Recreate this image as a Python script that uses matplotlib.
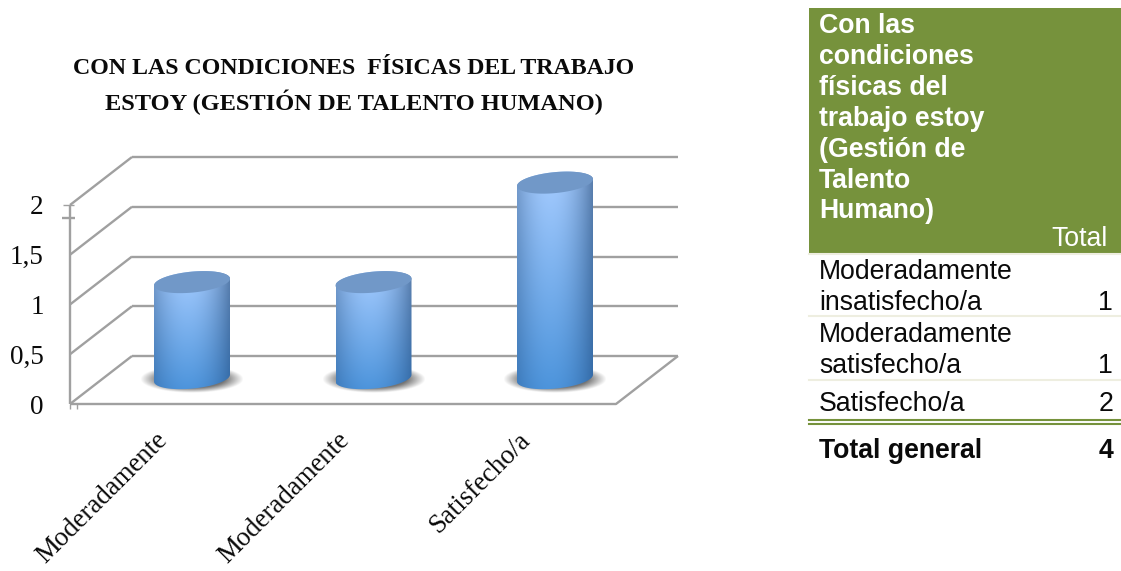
import numpy as np
import matplotlib
matplotlib.use('Agg')
import matplotlib.pyplot as plt
from matplotlib.patches import Polygon, Rectangle
from matplotlib.transforms import ScaledTranslation

title_lines = ['CON LAS CONDICIONES  FÍSICAS DEL TRABAJO', 'ESTOY (GESTIÓN DE TALENTO HUMANO)']
categories = ['Moderadamente', 'Moderadamente', 'Satisfecho/a']
values = [1, 1, 2]
y_ticks = [0, 0.5, 1, 1.5, 2]
y_labels = ['0', '0,5', '1', '1,5', '2']

table_header = ['Con las', 'condiciones', 'físicas del', 'trabajo estoy', '(Gestión de', 'Talento', 'Humano)']
table_rows = [['Moderadamente', 'insatisfecho/a'], ['Moderadamente', 'satisfecho/a'], ['Satisfecho/a']]
table_values = [1, 1, 2]
table_total = 4

W, H = 1121, 571
SERIF = 'Liberation Serif'
SANS = 'Liberation Sans'
GREY = '#a0a0a0'
GREEN = '#76923c'
PALE = '#eeeee0'
INK = '#0a0a0a'
FS = 19.2

fig = plt.figure(figsize=(W / 100, H / 100), dpi=100)

# eje del grafico: y=0 en 404 px, y=2 en 205 px
px_x = 181.5
px_y = 99.5
ax = fig.add_axes([70 / W, (H - 404) / H, 546 / W, 199 / H])
xlim = ((70 - 192) / px_x, (616 - 192) / px_x)
ylim = (0, 2)
for s in ax.spines.values():
    s.set_visible(False)
ax.patch.set_visible(False)

dx = 62 / px_x
dy = 48 / px_y


# paredes y piso en perspectiva
def line(xs, ys, z=1, lw=1.7):
    ax.plot(xs, ys, color=GREY, lw=lw, clip_on=False, zorder=z, solid_capstyle='butt')


back_right = xlim[1] + dx
for t in y_ticks:
    line([xlim[0], xlim[0] + dx], [t, t + dy])
    line([xlim[0] + dx, back_right], [t + dy, t + dy])
line([xlim[0], xlim[1], back_right], [0, 0, dy])
line([xlim[0], xlim[0]], [0, 2])
# marcas sueltas del eje
line([xlim[0] - 8 / px_x, xlim[0] + 5 / px_x], [1.87, 1.87])
line([xlim[0] - 7 / px_x, xlim[0] + 4 / px_x], [2, 2], lw=1)
line([xlim[0], xlim[0]], [0, -5 / px_y], lw=1)
line([xlim[0] + 7 / px_x, xlim[0] + 7 / px_x], [0, -5 / px_y], lw=1)


def ellipse(cx, cy, t):
    a = 38
    b = 10.5
    ex = a * np.cos(t)
    ey = b * np.sin(t) + 0.09 * a * np.cos(t)
    return np.column_stack([cx + ex / px_x, cy + ey / px_y])


def lerp(c1, c2, f):
    return np.asarray(c1)[None, None, :] * (1 - f[..., None]) + np.asarray(c2)[None, None, :] * f[..., None]


floor = 0.26
lift = 0.225
for i, v in enumerate(values):
    top = lift + v
    # sombra
    sx, sy = np.meshgrid(np.linspace(-1, 1, 120), np.linspace(-1, 1, 60))
    r = np.sqrt(sx ** 2 + sy ** 2)
    shadow = np.zeros((60, 120, 4))
    shadow[..., :3] = 0.32
    shadow[..., 3] = np.clip((1 - r) * 2.2, 0, 0.8)
    ax.imshow(shadow, extent=(i - 52 / px_x, i + 52 / px_x, floor - 15 / px_y, floor + 13 / px_y),
              aspect='auto', zorder=2, clip_on=False)

    # cuerpo del cilindro con degradado
    u, w = np.meshgrid(np.linspace(-1, 1, 100), np.linspace(0, 1, 200))
    center = lerp((0.65, 0.80, 1.0), (0.30, 0.58, 0.86), w)
    edge = lerp((0.36, 0.50, 0.68), (0.20, 0.42, 0.66), w)
    mix = np.clip(np.abs(u + 0.12) / 1.12, 0, 1) ** 2.0
    img = center * (1 - mix[..., None]) + edge * mix[..., None]
    im = ax.imshow(img, extent=(i - 38 / px_x, i + 38 / px_x, floor - 12 / px_y, top + 12 / px_y),
                   aspect='auto', zorder=3)
    low = ellipse(i, floor, np.linspace(np.pi, 2 * np.pi, 50))
    up = ellipse(i, top, np.linspace(0, np.pi, 50))
    body = Polygon(np.vstack([low, up]), closed=True, transform=ax.transData, fc='none', ec='none')
    ax.add_patch(body)
    im.set_clip_box(fig.bbox)
    im.set_clip_path(body)

    # tapa
    cap = ellipse(i, top, np.linspace(0, 2 * np.pi, 100))
    ax.add_patch(Polygon(cap, closed=True, fc='#7198c8', ec='none', zorder=4, clip_on=False))

ax.set_xlim(xlim)
ax.set_ylim(ylim)

ax.set_yticks(y_ticks, y_labels, fontfamily=SERIF, fontsize=19.5, color=INK)
ax.tick_params(axis='y', length=0, pad=19)
ax.set_xticks(range(len(categories)), categories, fontfamily=SERIF, fontsize=19.4, color=INK,
              rotation=45, ha='right', rotation_mode='anchor')
ax.tick_params(axis='x', length=0, pad=17)
shift = ScaledTranslation(-37 / 100, 0, fig.dpi_scale_trans)
for lab in ax.get_xticklabels():
    lab.set_transform(lab.get_transform() + shift)

# titulo y tabla en pixeles
tx = fig.add_axes([0, 0, 1, 1], zorder=5)
tx.set_xlim(0, W)
tx.set_ylim(H, 0)
tx.axis('off')
tx.patch.set_visible(False)

for y, s, fs in zip([68, 102], title_lines, [17.2, 17.6]):
    tx.text(354, y, s, family=SERIF, weight='bold', fontsize=fs, color=INK, ha='center', va='center')

tx.add_patch(Rectangle((809, 8), 312, 245, fc=GREEN, ec='none'))
for k, s in enumerate(table_header):
    tx.text(819, 33 + k * 30.9, s, family=SANS, weight='bold', fontsize=FS, color='white', va='baseline')
tx.text(1108, 246, 'Total', family=SANS, fontsize=FS, color='white', ha='right', va='baseline')

for y in [254, 316, 380]:
    tx.plot([809, 1121], [y, y], color=PALE, lw=1.5)
first_base = [279, 342, 411]
for rows, val, b0 in zip(table_rows, table_values, first_base):
    for k, s in enumerate(rows):
        tx.text(819, b0 + k * 31, s, family=SANS, fontsize=FS, color=INK, va='baseline')
    tx.text(1113, b0 + (len(rows) - 1) * 31, str(val), family=SANS, fontsize=FS, color=INK,
            ha='right', va='baseline')
tx.plot([809, 1121], [420, 420], color=GREEN, lw=1.5)
tx.plot([809, 1121], [424, 424], color=GREEN, lw=1.5)
tx.text(819, 458, 'Total general', family=SANS, weight='bold', fontsize=FS, color=INK, va='baseline')
tx.text(1113, 458, str(table_total), family=SANS, weight='bold', fontsize=FS, color=INK,
        ha='right', va='baseline')

fig.savefig('out.png', dpi=100, facecolor='white')
